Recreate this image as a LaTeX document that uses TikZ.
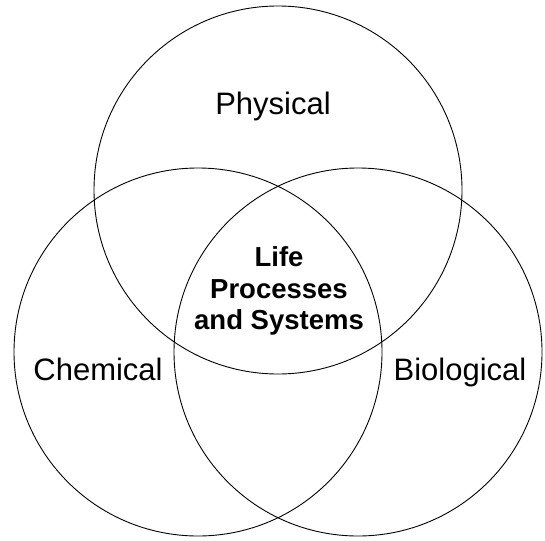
\documentclass[tikz,border=0pt]{standalone}
\usepackage{fontspec}
\setmainfont{Liberation Sans}
\usetikzlibrary{positioning}
\tikzset{
setcircle/.style={
draw,
circle,
line width=0.9pt,minimum size=368pt,inner sep=0pt},
setname/.style={inner sep=0pt,font={\fontsize{31pt}{37pt}\selectfont}},
core/.style={inner sep=0pt,align=center,font={\fontsize{27.5pt}{31.5pt}\selectfont\bfseries}}
}

\begin{document}
\begin{tikzpicture}[x=1pt,y=-1pt]
  \useasboundingbox (0,0) rectangle (545,540);
  \node[setcircle] (phys) at (278,190) {};
  \node[setcircle] (chem) at (198,352) {};
  \node[setcircle] (bio) at (358,352) {};
  \node[setname,anchor=base] (physlbl) at (273,115) {Physical};
  \node[setname,anchor=base] (chemlbl) at (98,380) {Chemical};
  \node[setname,anchor=base] (biolbl) at (460,380) {Biological};
  \node[core] (life) at (279,291) {Life\\Processes\\and Systems};
\end{tikzpicture}
\end{document}
